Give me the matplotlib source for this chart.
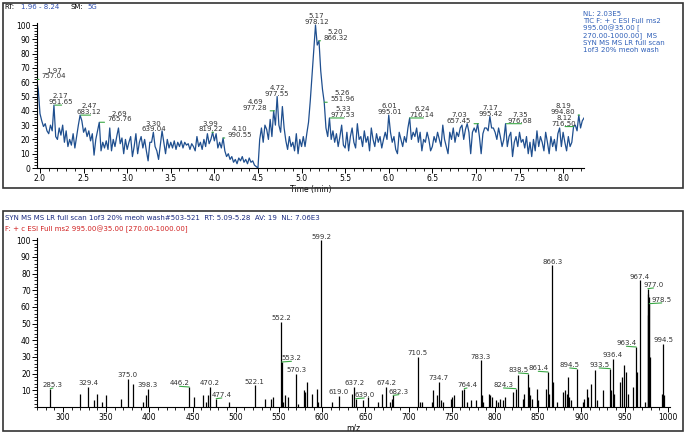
import numpy as np
import matplotlib.pyplot as plt
from matplotlib.patches import Rectangle
from matplotlib.ticker import MultipleLocator

plt.rcParams['font.family'] = ['DejaVu Sans']

# TIC chromatogram, one point every 0.02 min from 1.96 to 8.24 min
rt_start, rt_end = 1.96, 8.24
tic = [62, 55, 38, 33, 29, 31, 26, 24, 30, 26, 44, 22, 20, 28, 23, 30, 18, 26, 15, 20, 16, 24, 14, 22, 30, 37, 33,
       25, 28, 22, 26, 19, 24, 9, 20, 26, 32, 12, 18, 14, 19, 13, 28, 12, 20, 15, 22, 28, 17, 21, 10, 20,
       13, 18, 22, 8, 15, 24, 10, 18, 22, 14, 20, 12, 5, 18, 18, 25, 15, 12, 6, 16, 26, 18, 10, 20, 14,
       18, 14, 19, 13, 18, 15, 19, 14, 18, 16, 17, 13, 17, 15, 12, 22, 15, 18, 13, 20, 15, 24, 17, 20, 25,
       19, 24, 14, 18, 14, 21, 12, 8, 10, 6, 8, 4, 6, 3, 7, 5, 8, 4, 6, 3, 7, 4, 5, 2, 1,
       0, 20, 28, 18, 30, 27, 20, 34, 22, 40, 30, 50, 30, 25, 43, 28, 19, 13, 22, 15, 18, 12, 24, 10, 20,
       15, 22, 15, 24, 32, 47, 65, 82, 100, 86, 89, 68, 55, 46, 28, 22, 35, 20, 26, 18, 24, 15, 22, 30, 16,
       14, 25, 12, 22, 28, 18, 14, 31, 20, 22, 15, 26, 18, 22, 12, 28, 20, 15, 24, 18, 22, 14, 20, 25, 20,
       37, 25, 18, 22, 13, 10, 25, 20, 15, 22, 18, 28, 35, 20, 25, 22, 28, 18, 25, 12, 20, 18, 25, 20, 12,
       15, 22, 18, 25, 20, 15, 30, 20, 15, 10, 25, 20, 28, 18, 25, 22, 28, 30, 20, 27, 31, 25, 10, 25, 28,
       25, 31, 22, 10, 24, 28, 28, 26, 36, 28, 28, 25, 20, 28, 22, 15, 20, 31, 15, 22, 25, 8, 18, 22, 15,
       25, 18, 20, 14, 22, 10, 18, 8, 20, 12, 26, 15, 22, 18, 12, 25, 18, 10, 22, 15, 20, 12, 24, 28, 15,
       25, 18, 12, 22, 15, 18, 29, 30, 26, 37, 28, 33, 35]

# labelled chromatogram peaks: retention time, base peak m/z
tic_peak_rt = [1.97, 2.17, 2.47, 2.69, 3.30, 3.99, 4.10, 4.69, 4.72, 5.17,
               5.20, 5.26, 5.33, 6.01, 6.24, 7.03, 7.17, 7.35, 8.12, 8.19]
tic_peak_mz = ['757.04', '951.65', '683.12', '765.76', '639.04', '819.22', '990.55', '977.28', '977.55', '978.12',
               '866.32', '551.96', '977.53', '995.01', '716.14', '657.45', '995.42', '976.68', '716.50', '994.80']

# MS2 spectrum sticks
mz = [285.3, 319.8, 329.4, 336.0, 339.7, 345.5, 349.8, 366.8, 375.0, 381.4, 393.0, 396.0, 398.3,
      446.2, 451.6, 462.4, 465.2, 468.2, 470.2, 477.4, 492.5, 522.1, 533.8, 540.7, 542.7,
      552.2, 553.2, 555.0, 557.0, 560.8, 570.3, 572.3, 578.9, 580.4, 582.8, 588.2, 593.6, 595.5, 599.2,
      611.0, 619.0, 634.8, 637.2, 639.0, 647.6, 652.6, 664.9, 669.6, 674.2, 678.4, 681.0, 682.3,
      710.5, 713.0, 716.0, 726.8, 727.9, 732.5, 734.7, 737.5, 740.2, 749.0, 750.6, 752.2,
      761.3, 764.4, 767.1, 771.8, 777.9, 783.3, 784.5, 786.5, 793.0, 794.6, 796.1, 800.8, 803.8, 805.8,
      809.6, 811.9, 821.2, 824.3, 826.6, 832.0, 833.5, 838.5, 839.5, 840.4, 842.4, 848.1, 849.7,
      859.0, 861.4, 862.8, 866.3, 867.3, 872.0, 878.2, 880.9, 882.8, 884.3, 885.9, 887.5, 894.5,
      902.1, 903.3, 906.0, 907.9, 911.1, 915.7, 917.6, 925.3, 933.5, 934.5, 936.4, 937.7,
      944.7, 946.6, 949.7, 951.3, 953.6, 959.4, 963.4, 964.8, 967.4, 973.7,
      976.5, 977.0, 977.5, 978.0, 978.5, 979.0, 993.3, 994.5, 995.6]
rel_ab = [11, 8, 12, 4, 8, 3, 7, 5, 17, 14, 3, 7, 11,
          12, 6, 7, 3, 7, 12, 5, 3, 13, 5, 5, 6,
          51, 27, 3, 7, 6, 20, 2, 10, 9, 15, 8, 11, 3, 100,
          3, 6.5, 8, 12, 5, 4, 6, 3, 8, 12, 3, 5, 7,
          30, 3, 3, 3, 10, 7, 15, 4, 3, 5, 6, 7,
          10, 11, 3, 4, 4, 28, 7, 3, 8, 7, 6, 4, 3, 5,
          4, 6, 9, 11, 19, 5, 8, 20, 12, 7, 5, 11, 4,
          11, 21, 8, 85, 15, 3, 9, 10, 8, 18, 6, 4, 23,
          3, 5, 11, 6, 14, 22, 4, 10, 23, 10, 29, 8,
          15, 18, 25, 21, 8, 12, 36, 21, 76, 3,
          55, 71, 68, 66, 62, 30, 8, 38, 7]
ms_labels = [285.3, 329.4, 375.0, 398.3, 446.2, 470.2, 477.4, 522.1, 552.2, 553.2, 570.3, 599.2,
             619.0, 637.2, 639.0, 674.2, 682.3, 710.5, 734.7, 764.4, 783.3, 824.3, 838.5, 861.4,
             866.3, 894.5, 933.5, 936.4, 963.4, 967.4, 977.0, 978.5, 994.5]

# label placement (horizontal shift in points; nonzero shift gets a green leader)
tic_dx = [12, 4, 6, 14, 0, -2, 12, -14, 0, 0, 12, 13, 9, 0, 9, -14, 0, 10, -7, -12]
ms_dx = [2, 0, 0, 0, -7, 0, 4, 0, 0, 7, 0, 0, 0, 0, 6, 0, 4, 0, 0, 2, 0, -9, -7, -7,
         0, -5, -8, 0, -7, 0, 4, 9, 0]

blue = '#1f4f8f'
green = '#3aa845'
fs = 5

fig = plt.figure(figsize=(6.85, 4.34), dpi=100)
fig.patches.append(Rectangle((0.0044, 0.567), 0.9927, 0.4263, transform=fig.transFigure,
                             fill=False, ec='#333333', lw=1.2))
fig.patches.append(Rectangle((0.0044, 0.0069), 0.9927, 0.507, transform=fig.transFigure,
                             fill=False, ec='#333333', lw=1.2))


def style_axes(ax):
    for s in ['top', 'right']:
        ax.spines[s].set_visible(False)
    for s in ['left', 'bottom']:
        ax.spines[s].set_linewidth(0.8)
    ax.tick_params(which='major', length=3.5, width=0.7, labelsize=5.5, pad=1)
    ax.tick_params(which='minor', length=2, width=0.6)
    ax.yaxis.set_major_locator(MultipleLocator(10))
    ax.yaxis.set_minor_locator(MultipleLocator(2))


# top panel: chromatogram
ax1 = fig.add_axes([0.0533, 0.6129, 0.7993, 0.3343])
rt = np.linspace(rt_start, rt_end, len(tic))
tic = np.array(tic, dtype=float)
ax1.plot(rt, tic, color=blue, lw=0.9)
ax1.set_xlim(rt_start, rt_end)
ax1.set_ylim(0, 101.5)
style_axes(ax1)
ax1.xaxis.set_major_locator(MultipleLocator(0.5))
ax1.xaxis.set_minor_locator(MultipleLocator(0.1))
ax1.set_xlabel('Time (min)', fontsize=5.5, labelpad=1)

for r, m, dx in zip(tic_peak_rt, tic_peak_mz, tic_dx):
    top = tic[np.abs(rt - r) < 0.011].max()
    arrow = dict(arrowstyle='-', color=green, lw=0.8, relpos=(0.55, 0), shrinkA=0, shrinkB=0) if dx else None
    ax1.annotate(f'{r:.2f}\n{m}', xy=(r, top), xytext=(dx, 0), textcoords='offset points',
                 ha='center', va='bottom', fontsize=fs, color='#333333', linespacing=0.95,
                 arrowprops=arrow)

fig.text(0.007, 0.984, 'RT:', fontsize=5, va='center')
fig.text(0.03, 0.984, '1.96 - 8.24', fontsize=5, va='center', color='#3050b0')
fig.text(0.103, 0.984, 'SM:', fontsize=5, va='center')
fig.text(0.127, 0.984, '5G', fontsize=5, va='center', color='#3050b0')
fig.text(0.851, 0.975, 'NL: 2.03E5\nTIC F: + c ESI Full ms2\n995.00@35.00 [\n270.00-1000.00]  MS\n'
         'SYN MS MS LR full scan\n1of3 20% meoh wash', fontsize=5, va='top', color='#3060b8',
         linespacing=1.15)

# bottom panel: MS2 spectrum
ax2 = fig.add_axes([0.054, 0.0622, 0.9247, 0.3899])
ax2.vlines(mz, 0, rel_ab, color='black', lw=0.9)
ax2.set_xlim(270, 1003)
ax2.set_ylim(0, 101.5)
style_axes(ax2)
ax2.xaxis.set_major_locator(MultipleLocator(50))
ax2.xaxis.set_minor_locator(MultipleLocator(10))
ax2.set_yticks(range(10, 101, 10))
ax2.set_xlabel('m/z', fontsize=5.5, labelpad=1)

ab = dict(zip(mz, rel_ab))
for m, dx in zip(ms_labels, ms_dx):
    arrow = dict(arrowstyle='-', color=green, lw=0.8, relpos=(0.5, 0), shrinkA=0, shrinkB=0) if dx else None
    ax2.annotate(f'{m:.1f}', xy=(m, ab[m]), xytext=(dx, 0.5), textcoords='offset points',
                 ha='center', va='bottom', fontsize=fs, color='#333333', arrowprops=arrow)

fig.text(0.007, 0.497, 'SYN MS MS LR full scan 1of3 20% meoh wash#503-521  RT: 5.09-5.28  AV: 19  NL: 7.06E3',
         fontsize=5, va='center', color='#1a2a80')
fig.text(0.007, 0.472, 'F: + c ESI Full ms2 995.00@35.00 [270.00-1000.00]',
         fontsize=5, va='center', color='#d02020')

fig.savefig('out.png', dpi=100)
